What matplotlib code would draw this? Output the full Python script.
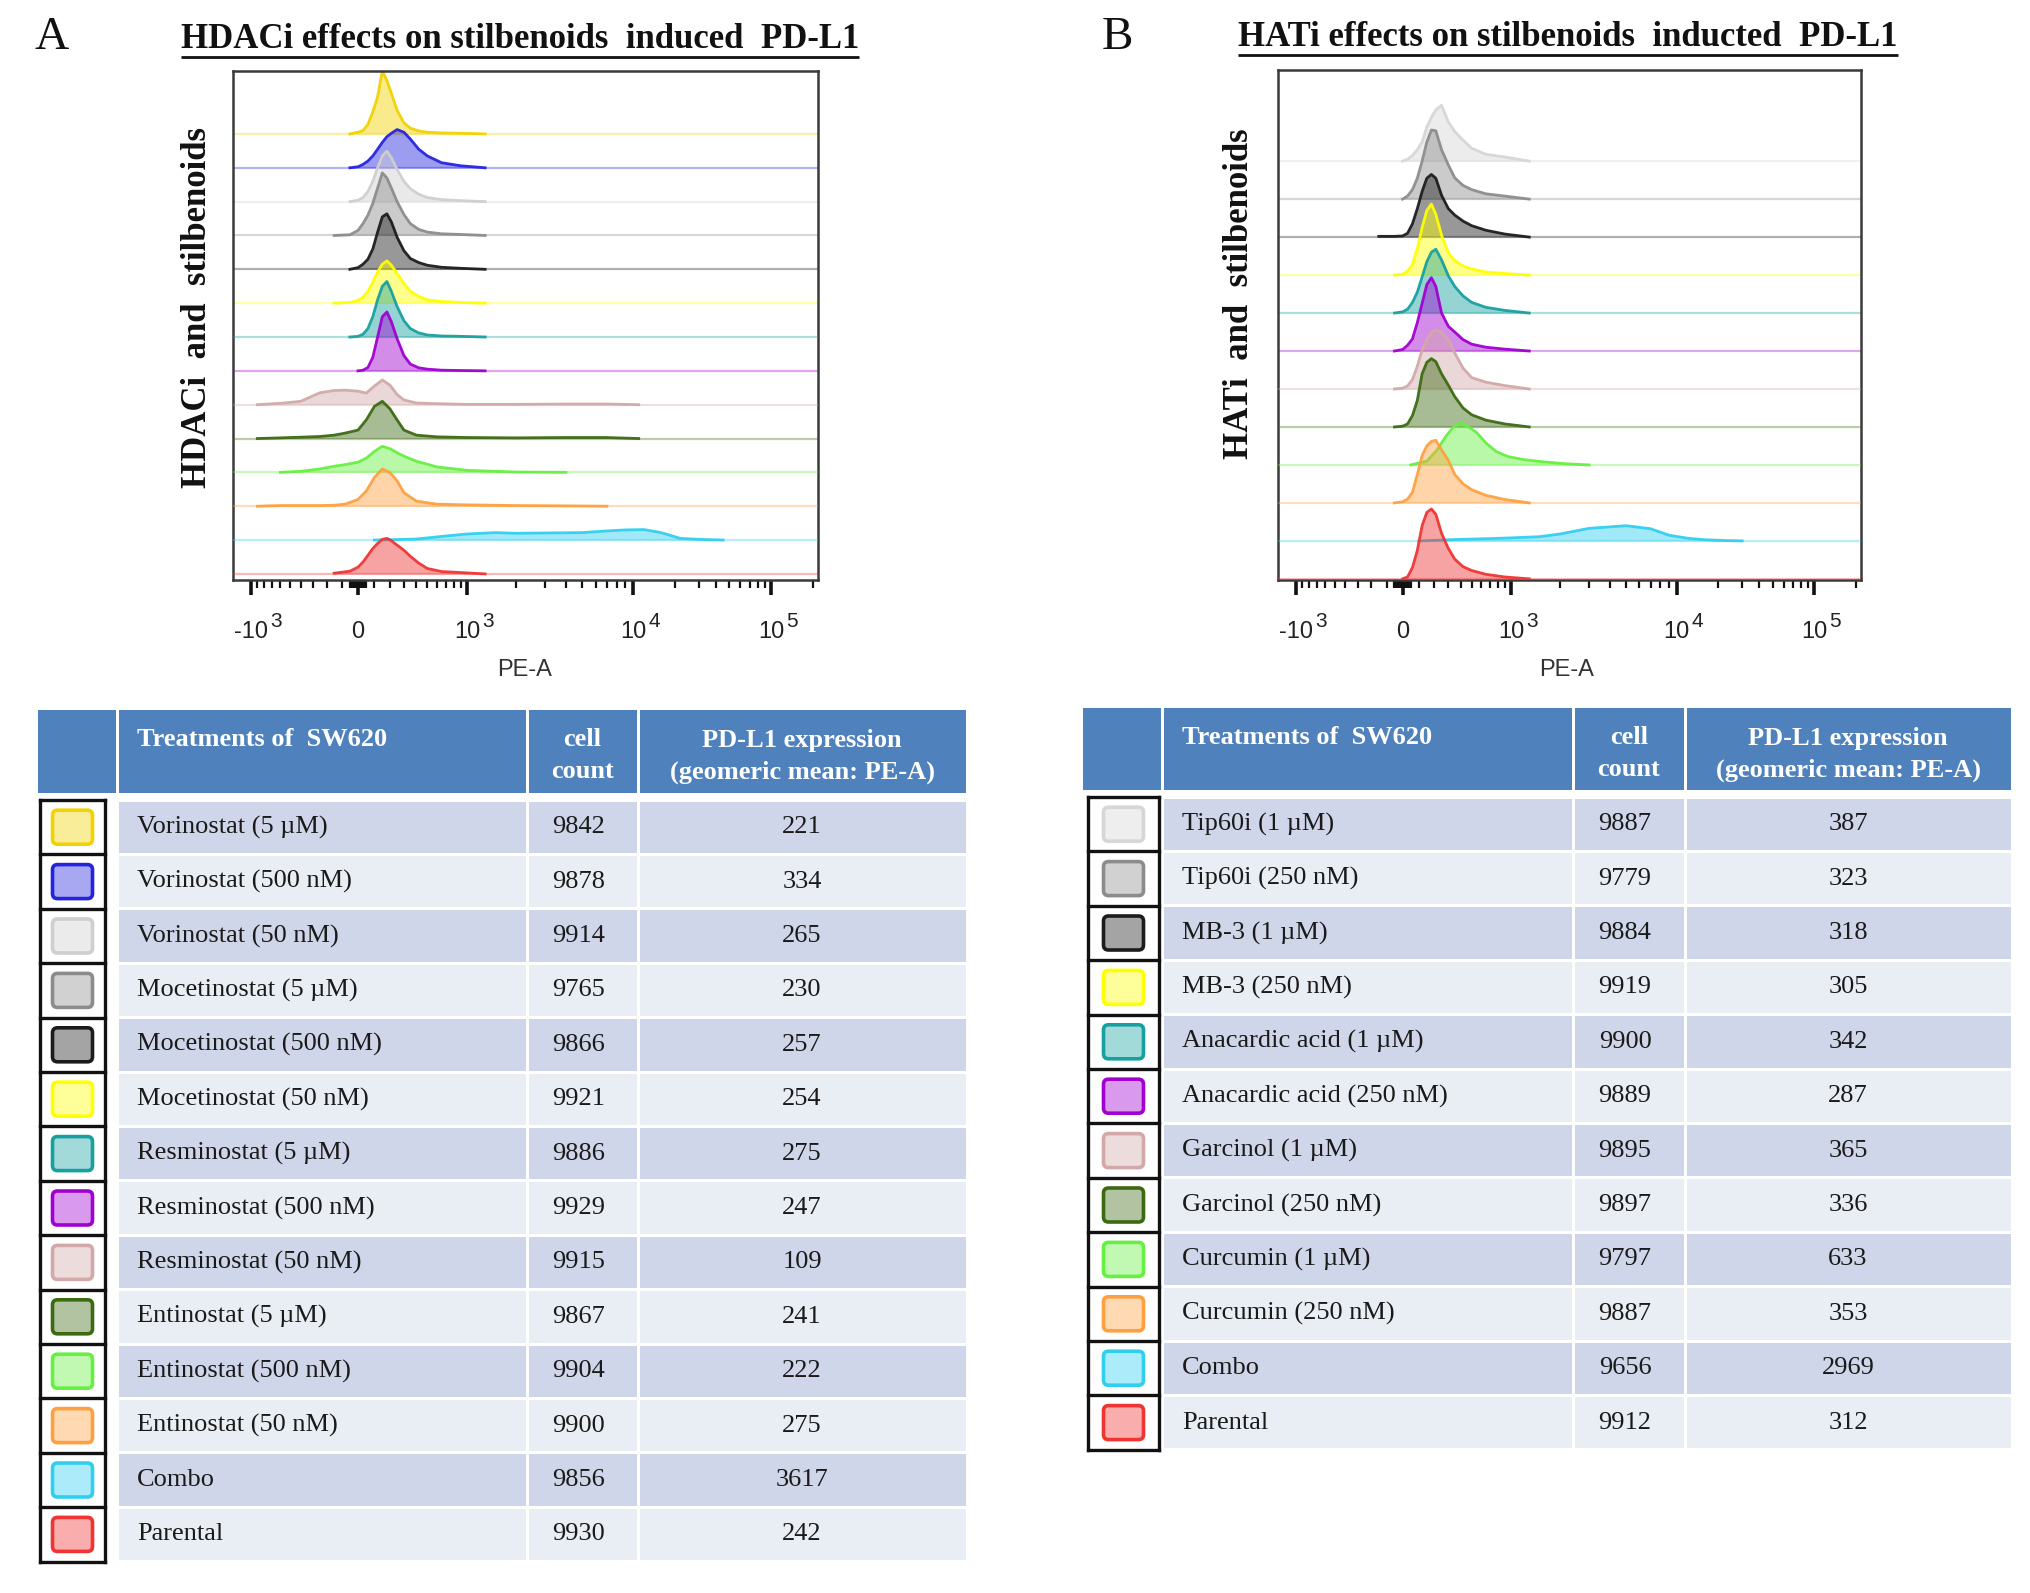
import numpy as np
import matplotlib
matplotlib.use("Agg")
import matplotlib.pyplot as plt
from matplotlib.patches import Rectangle, FancyBboxPatch

plt.rcParams['font.family'] = ['Liberation Sans', 'DejaVu Sans']

# ---------------------------------------------------------------- data
# PE-A sample positions (shared grids) for the histogram outlines
GRID_N = [-150, -50, 0, 30, 60, 90, 120, 150, 180, 210, 250, 300, 350, 420, 500, 650, 900, 1300]
GRID_W = [-900, -600, -400, -250, -150, -80, 0, 50, 100, 150, 200, 250, 300, 400, 600, 1000, 2000, 4000, 7000, 11000]
GRID_C = [100, 400, 700, 1000, 1500, 2000, 3000, 5000, 7000, 9000, 12000, 16000, 22000, 30000, 45000]
GRID_G = [50, 150, 220, 280, 340, 400, 470, 550, 650, 780, 950, 1200, 1600, 2200, 3000]

# Panel A histograms (relative counts; 100 = one row spacing)
A_VOR5 = [0, 0, 5, 10, 28, 65, 110, 186, 158, 120, 70, 33, 17, 9, 5, 3, 2, 0]
A_VOR500 = [0, 0, 3, 10, 20, 35, 55, 75, 92, 102, 113, 105, 85, 55, 35, 15, 6, 0]
A_VOR50 = [0, 0, 4, 12, 30, 60, 100, 135, 149, 130, 95, 60, 38, 22, 12, 6, 3, 0]
A_MOC5 = [0, 2, 15, 35, 60, 95, 140, 185, 170, 140, 100, 62, 35, 18, 10, 5, 3, 0]
A_MOC500 = [0, 0, 5, 15, 30, 60, 110, 155, 164, 140, 95, 55, 32, 20, 12, 6, 3, 0]
A_MOC50 = [0, 2, 8, 18, 35, 62, 92, 115, 125, 112, 88, 58, 35, 20, 10, 5, 2, 0]
A_RES5 = [0, 0, 2, 8, 25, 60, 110, 150, 164, 135, 90, 48, 25, 12, 6, 3, 2, 0]
A_RES500 = [0, 0, 0, 2, 10, 40, 100, 160, 174, 145, 95, 45, 20, 9, 5, 2, 1, 0]
A_RES50 = [0, 4, 10, 35, 42, 43, 40, 34, 55, 73, 58, 30, 14, 5, 3, 1, 1, 2, 2, 0]
A_ENT5 = [0, 2, 4, 6, 10, 16, 25, 55, 95, 110, 88, 55, 25, 10, 5, 3, 2, 3, 3, 0]
A_ENT500 = [0, 0, 3, 10, 18, 23, 30, 42, 62, 77, 70, 58, 48, 33, 16, 6, 1, 0, 0, 0]
A_ENT50 = [0, 2, 2, 2, 3, 6, 20, 45, 85, 110, 100, 75, 40, 15, 6, 4, 2, 1, 0, 0]
A_COMBO = [0, 3, 12, 18, 22, 20, 21, 22, 27, 30, 31, 22, 5, 2, 0]
A_PAR = [2, 8, 20, 35, 55, 75, 90, 102, 105, 98, 85, 70, 52, 32, 16, 7, 4, 0]

# Panel B histograms
B_TIP1 = [0, 0, 0, 5, 15, 30, 50, 90, 115, 135, 147, 103, 78, 55, 34, 18, 11, 0]
B_TIP250 = [0, 0, 0, 8, 25, 55, 100, 150, 182, 180, 130, 90, 56, 36, 25, 14, 8, 0]
B_MB1 = [2, 2, 3, 10, 35, 75, 120, 155, 165, 155, 110, 75, 58, 42, 30, 18, 8, 0]
B_MB250 = [0, 0, 2, 10, 28, 70, 125, 170, 187, 160, 105, 58, 38, 24, 16, 8, 4, 0]
B_ANA1 = [0, 0, 3, 10, 28, 55, 95, 135, 160, 168, 140, 98, 70, 45, 28, 15, 7, 0]
B_ANA250 = [0, 0, 4, 15, 32, 75, 125, 175, 193, 170, 100, 65, 50, 30, 18, 10, 5, 0]
B_GAR1 = [0, 0, 2, 8, 25, 60, 103, 130, 148, 155, 150, 130, 95, 55, 30, 18, 9, 0]
B_GAR250 = [0, 0, 2, 8, 30, 70, 140, 170, 180, 172, 140, 110, 80, 50, 32, 18, 8, 0]
B_CUR1 = [0, 10, 40, 75, 100, 111, 100, 85, 58, 35, 22, 14, 8, 3, 0]
B_CUR250 = [0, 0, 3, 10, 28, 75, 125, 150, 162, 165, 140, 112, 75, 50, 35, 20, 9, 0]
B_COMBO = [0, 4, 6, 8, 11, 18, 33, 40, 32, 15, 7, 3, 1, 0, 0]
B_PAR = [0, 0, 0, 5, 30, 75, 140, 175, 184, 170, 120, 80, 52, 32, 22, 12, 5, 0]

A_TREAT = ['Vorinostat (5 µM)', 'Vorinostat (500 nM)', 'Vorinostat (50 nM)',
           'Mocetinostat (5 µM)', 'Mocetinostat (500 nM)', 'Mocetinostat (50 nM)',
           'Resminostat (5 µM)', 'Resminostat (500 nM)', 'Resminostat (50 nM)',
           'Entinostat (5 µM)', 'Entinostat (500 nM)', 'Entinostat (50 nM)',
           'Combo', 'Parental']
A_COUNT = [9842, 9878, 9914, 9765, 9866, 9921, 9886, 9929, 9915, 9867, 9904, 9900, 9856, 9930]
A_GEO = [221, 334, 265, 230, 257, 254, 275, 247, 109, 241, 222, 275, 3617, 242]
A_HIST = [(GRID_N, A_VOR5), (GRID_N, A_VOR500), (GRID_N, A_VOR50), (GRID_N, A_MOC5),
          (GRID_N, A_MOC500), (GRID_N, A_MOC50), (GRID_N, A_RES5), (GRID_N, A_RES500),
          (GRID_W, A_RES50), (GRID_W, A_ENT5), (GRID_W, A_ENT500), (GRID_W, A_ENT50),
          (GRID_C, A_COMBO), (GRID_N, A_PAR)]
A_COLORS = ['#f2d200', '#2424e0', '#cfcfcf', '#8c8c8c', '#1c1c1c', '#ffff00', '#17a0a0',
            '#a000d0', '#d2a8a8', '#3c6a12', '#66f040', '#ffa040', '#30cff0', '#f03434']

B_TREAT = ['Tip60i (1 µM)', 'Tip60i (250 nM)', 'MB-3 (1 µM)', 'MB-3 (250 nM)',
           'Anacardic acid (1 µM)', 'Anacardic acid (250 nM)', 'Garcinol (1 µM)',
           'Garcinol (250 nM)', 'Curcumin (1 µM)', 'Curcumin (250 nM)', 'Combo', 'Parental']
B_COUNT = [9887, 9779, 9884, 9919, 9900, 9889, 9895, 9897, 9797, 9887, 9656, 9912]
B_GEO = [387, 323, 318, 305, 342, 287, 365, 336, 633, 353, 2969, 312]
B_HIST = [(GRID_N, B_TIP1), (GRID_N, B_TIP250), (GRID_N, B_MB1), (GRID_N, B_MB250),
          (GRID_N, B_ANA1), (GRID_N, B_ANA250), (GRID_N, B_GAR1), (GRID_N, B_GAR250),
          (GRID_G, B_CUR1), (GRID_N, B_CUR250), (GRID_C, B_COMBO), (GRID_N, B_PAR)]
B_COLORS = ['#d6d6d6', '#8c8c8c', '#1c1c1c', '#ffff00', '#17a0a0', '#a000d0', '#d2a8a8',
            '#3c6a12', '#66f040', '#ffa040', '#30cff0', '#f03434']

MAJOR_TICKS = [-1000, 0, 1000, 10000, 100000]
LAB_BASE = ['-10', '0', '10', '10', '10']
LAB_SUP = ['3', '', '3', '4', '5']
MINOR_TICKS = ([-k * 100 for k in range(1, 10)] + [-k * 10 for k in range(1, 6)] +
               [k * 10 for k in range(1, 6)] + [k * 100 for k in range(1, 10)] +
               [k * 1000 for k in range(2, 10)] + [k * 10000 for k in range(2, 10)] + [200000])

# ---------------------------------------------------------------- biexponential-like axis
W_ASINH = 199.0
LN10 = np.log(10.0)


def _u(x):
    return np.arcsinh(np.asarray(x, dtype=float) / (2 * W_ASINH)) / LN10


KX = np.array([-1e6, -1e5, -1e4, -1e3, 0.0, 1e3, 1e4, 1e5, 1e6])
KU = _u(KX)
KP = np.array([-547.0, -409.0, -257.0, -107.0, 0.0, 109.0, 275.0, 413.0, 551.0])


def fwd(x):
    return np.interp(_u(x), KU, KP)


def inv(p):
    return 2 * W_ASINH * np.sinh(np.interp(np.asarray(p, dtype=float), KP, KU) * LN10)


# ---------------------------------------------------------------- figure
FW, FH = 2031, 1593
fig = plt.figure(figsize=(FW / 100, FH / 100), dpi=100)
ov = fig.add_axes([0, 0, 1, 1])
ov.set_xlim(0, FW)
ov.set_ylim(FH, 0)
ov.axis('off')
ov.set_zorder(0)

SERIF = ['Liberation Serif', 'DejaVu Serif']


def px_axes(l, t, r, b):
    ax = fig.add_axes([l / FW, 1 - b / FH, (r - l) / FW, (b - t) / FH])
    ax.set_zorder(1)
    return ax


def draw_hist(ax, hists, colors, ymin, ymax, lab_y):
    ax.set_xscale('function', functions=(fwd, inv))
    ax.set_xlim(inv(-125), inv(460))
    ax.set_ylim(ymin, ymax)
    ax.set_yticks([])
    n = len(hists)
    for i, ((gx, gy), col) in enumerate(zip(hists, colors)):
        base = n - 1 - i
        z = 2 + i * 0.1
        h = np.asarray(gy, dtype=float)
        ax.axhline(base, color=col, lw=1.6, alpha=0.35, zorder=z - 0.02)
        yy = base + h / 100.0
        ax.fill_between(gx, base, yy, color=col, alpha=0.45, lw=0, zorder=z)
        pos = h > 0
        keep = pos.copy()
        keep[1:] |= pos[:-1]
        keep[:-1] |= pos[1:]
        yl = np.where(keep, yy, np.nan)
        ax.plot(gx, yl, color=col, lw=2.0, alpha=0.95, zorder=z + 0.05,
                solid_joinstyle='round')
    ax.set_xticks(MAJOR_TICKS)
    ax.set_xticks(MINOR_TICKS, minor=True)
    ax.tick_params(axis='x', which='major', length=11, width=2.6, direction='out',
                   color='#111111', labelbottom=False)
    ax.tick_params(axis='x', which='minor', length=6, width=1.6, direction='out',
                   color='#111111', labelbottom=False)
    tr = ax.get_xaxis_transform()
    for t, b, s in zip(MAJOR_TICKS, LAB_BASE, LAB_SUP):
        bt = ax.text(t, lab_y, b, transform=tr, ha='center', va='baseline',
                     fontsize=17, color='#222222')
        if s:
            ax.annotate(s, xy=(1, 0), xycoords=bt, xytext=(1.5, 11.5),
                        textcoords='offset points', ha='left', va='baseline',
                        fontsize=15, color='#222222')
    for sp in ax.spines.values():
        sp.set_color('#3a3a3a')
        sp.set_linewidth(1.8)


axA = px_axes(233, 71, 818, 580)
draw_hist(axA, A_HIST, A_COLORS, -0.18, 14.86, -(638 - 580) / 509)
axB = px_axes(1278, 70, 1861, 580)
draw_hist(axB, B_HIST, B_COLORS, -0.03, 13.4, -(638 - 580) / 510)

# axis labels / titles
ov.text(525, 670, 'PE-A', ha='center', va='center', fontsize=17, color='#333333')
ov.text(1567, 670, 'PE-A', ha='center', va='center', fontsize=17, color='#333333')
ov.text(197, 307, 'HDACi  and  stilbenoids', rotation=90, ha='center', va='center',
        fontsize=25, fontweight='bold', family=SERIF, color='#111111')
ov.text(1239, 294, 'HATi  and  stilbenoids', rotation=90, ha='center', va='center',
        fontsize=25, fontweight='bold', family=SERIF, color='#111111')
ov.text(52, 38, 'A', ha='center', va='center', fontsize=34, family=SERIF, color='#111111')
ov.text(1117, 38, 'B', ha='center', va='center', fontsize=34, family=SERIF, color='#111111')
tA = ov.text(520, 40, 'HDACi effects on stilbenoids  induced  PD-L1', ha='center',
             va='center', fontsize=25, fontweight='bold', family=SERIF, color='#111111')
tB = ov.text(1568, 38, 'HATi effects on stilbenoids  inducted  PD-L1', ha='center',
             va='center', fontsize=25, fontweight='bold', family=SERIF, color='#111111')

fig.canvas.draw()
rend = fig.canvas.get_renderer()
for t, uy in ((tA, 57), (tB, 55)):
    bb = t.get_window_extent(renderer=rend)
    ov.plot([bb.x0, bb.x1], [uy, uy], color='#111111', lw=2.0, solid_capstyle='butt')


# ---------------------------------------------------------------- tables
def draw_table(x_edges, sw_l, sw_r, head_top, head_bot, row_top, pitch,
               names, counts, geos, colors):
    gap = 3.0
    blue = '#4f81bd'
    for j in range(4):
        x0 = x_edges[j] + (gap / 2 if j > 0 else 0)
        x1 = x_edges[j + 1] - (gap / 2 if j < 3 else 0)
        ov.add_patch(Rectangle((x0, head_top), x1 - x0, head_bot - head_top,
                               fc=blue, ec='none'))
    hkw = dict(color='white', fontsize=19, fontweight='bold', family=SERIF, va='center')
    cc = (x_edges[2] + x_edges[3]) / 2
    pc = (x_edges[3] + x_edges[4]) / 2
    ov.text(x_edges[1] + 20, head_top + 30, 'Treatments of  SW620', ha='left', **hkw)
    ov.text(cc, head_top + 30, 'cell', ha='center', **hkw)
    ov.text(cc, head_top + 62, 'count', ha='center', **hkw)
    ov.text(pc, head_top + 30, 'PD-L1 expression', ha='center', **hkw)
    ov.text(pc, head_top + 62, '(geomeric mean: PE-A)', ha='center', **hkw)

    n = len(names)
    bkw = dict(color='#1a1a1a', fontsize=19, family=SERIF, va='center')
    for i in range(n):
        y0 = row_top + i * pitch
        fc = '#cfd6e9' if i % 2 == 0 else '#e9edf4'
        for j in range(1, 4):
            x0 = x_edges[j] + gap / 2
            x1 = x_edges[j + 1] - (gap / 2 if j < 3 else 0)
            ov.add_patch(Rectangle((x0, y0 + gap / 2), x1 - x0, pitch - gap,
                                   fc=fc, ec='none'))
        yc = y0 + pitch / 2
        ov.text(x_edges[1] + 20, yc, names[i], ha='left', **bkw)
        ov.text(cc - 4, yc, str(counts[i]), ha='center', **bkw)
        ov.text(pc, yc, str(geos[i]), ha='center', **bkw)
        # swatch cell
        ov.plot([sw_l, sw_r], [y0, y0], color='#111111', lw=2.4, solid_capstyle='projecting')
        sx = (sw_l + sw_r) / 2
        w, h = 40, 34
        col = colors[i]
        ov.add_patch(FancyBboxPatch((sx - w / 2, yc - h / 2), w, h,
                                    boxstyle='round,pad=0,rounding_size=5',
                                    fc=col, ec='none', alpha=0.4))
        ov.add_patch(FancyBboxPatch((sx - w / 2, yc - h / 2), w, h,
                                    boxstyle='round,pad=0,rounding_size=5',
                                    fc='none', ec=col, lw=2.6))
    y_end = row_top + n * pitch
    ov.plot([sw_l, sw_r], [y_end, y_end], color='#111111', lw=2.4, solid_capstyle='projecting')
    for xv in (sw_l, sw_r):
        ov.plot([xv, xv], [row_top, y_end], color='#111111', lw=2.4)


draw_table([38, 117, 527, 638, 966], 40, 105, 710, 793, 800, 54.4,
           A_TREAT, A_COUNT, A_GEO, A_COLORS)
draw_table([1083, 1162, 1573, 1685, 2011], 1088, 1159, 708, 790, 797, 54.4,
           B_TREAT, B_COUNT, B_GEO, B_COLORS)

fig.savefig('out.png', dpi=100)
